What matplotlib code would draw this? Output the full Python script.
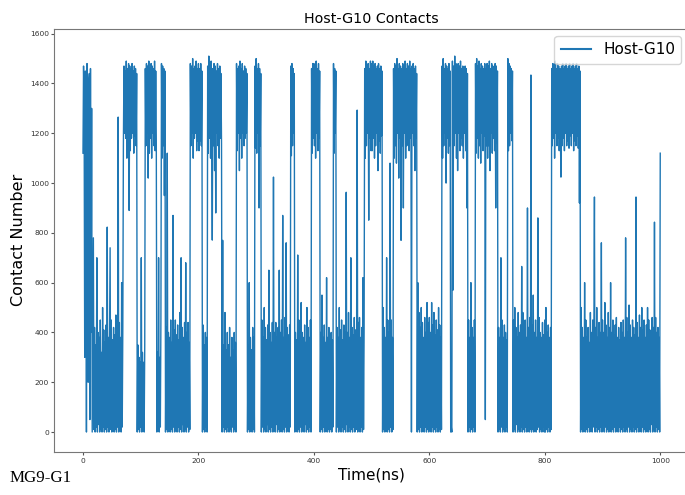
import numpy as np
import matplotlib
matplotlib.use('Agg')
import matplotlib.pyplot as plt

# contact numbers, one value per ns, in 100 ns blocks
time_step = 1
contacts_000 = [1120, 1470, 1300, 300, 1450, 1200, 0, 1480, 1150, 200, 1400, 1440, 50, 1460, 400, 1300, 0, 380, 780, 10,
                420, 0, 350, 20, 700, 0, 400, 30, 380, 0, 450, 10, 320, 0, 500, 20, 410, 0, 360, 10,
                430, 0, 823, 20, 380, 0, 400, 740, 10, 450, 0, 370, 30, 420, 0, 390, 10, 470, 0, 350,
                20, 1265, 0, 440, 10, 380, 0, 600, 20, 420, 1150, 1470, 1200, 1450, 1180, 1490, 1100, 1460, 1210, 1480,
                890, 1470, 1130, 1460, 1180, 1480, 1200, 1450, 1120, 1470, 1190, 1460, 1150, 1440, 0, 350, 10, 300, 0, 280]
contacts_100 = [20, 700, 0, 320, 10, 280, 0, 350, 1460, 1150, 1480, 1200, 1470, 1020, 1490, 1120, 1460, 1180, 1480, 1100,
                1470, 1200, 1460, 1150, 1490, 1130, 1450, 1170, 0, 320, 10, 700, 0, 300, 20, 450, 1480, 1100, 1470, 1150,
                1460, 950, 1450, 0, 420, 10, 1120, 0, 400, 20, 380, 0, 450, 10, 360, 0, 870, 20, 410, 0,
                450, 10, 390, 0, 430, 20, 370, 0, 480, 10, 700, 0, 420, 30, 380, 0, 440, 10, 680, 0,
                400, 20, 440, 0, 360, 10, 1480, 1150, 1470, 1200, 1500, 1100, 1460, 1180, 1470, 1200, 1490, 1130, 1460, 1170]
contacts_200 = [1480, 1130, 1460, 1170, 1480, 1150, 1450, 0, 430, 10, 350, 0, 400, 20, 380, 0, 1470, 1120, 1510, 1180,
                1460, 1100, 1490, 1200, 771, 1460, 1150, 1480, 1050, 1470, 880, 1450, 1200, 1480, 1150, 1460, 1100, 1470, 1180, 1440,
                1160, 0, 770, 20, 350, 0, 480, 10, 330, 0, 400, 20, 350, 0, 420, 10, 300, 0, 380, 20,
                330, 0, 400, 10, 360, 0, 1480, 1130, 1460, 1200, 1470, 1050, 1490, 1180, 1460, 1100, 1480, 1200, 1450, 1150,
                1470, 1180, 1460, 1200, 1440, 0, 350, 10, 600, 0, 380, 20, 330, 0, 420, 10, 380, 0, 1470, 1140]
contacts_300 = [1500, 1120, 1460, 1200, 1480, 900, 1460, 1150, 1440, 0, 450, 20, 380, 0, 500, 10, 420, 0, 370, 30,
                430, 0, 650, 10, 400, 0, 360, 20, 440, 0, 1024, 10, 400, 0, 440, 30, 380, 0, 420, 10,
                650, 0, 400, 20, 450, 0, 870, 10, 380, 0, 460, 20, 760, 0, 420, 10, 390, 0, 430, 20,
                1470, 1110, 1480, 1150, 1460, 1200, 1440, 0, 400, 20, 370, 0, 711, 10, 450, 0, 380, 20, 520, 0,
                400, 10, 380, 0, 430, 30, 360, 0, 500, 10, 420, 0, 380, 20, 450, 0, 1460, 1120, 1480, 1180]
contacts_400 = [1480, 1150, 1470, 1100, 1490, 1200, 1460, 1130, 1480, 1180, 1450, 0, 400, 10, 550, 0, 380, 20, 430, 0,
                360, 20, 620, 0, 380, 10, 420, 0, 350, 10, 400, 0, 370, 20, 1480, 1120, 1460, 1200, 1450, 0,
                420, 20, 380, 0, 500, 10, 410, 0, 450, 20, 370, 0, 430, 10, 400, 0, 963, 30, 400, 0,
                480, 20, 380, 0, 700, 10, 420, 0, 390, 20, 460, 0, 410, 10, 380, 1293, 0, 440, 10, 460,
                0, 380, 20, 420, 0, 620, 10, 400, 1460, 1100, 1490, 1150, 1470, 1200, 1480, 851, 1460, 1180, 1490, 1130]
contacts_500 = [1480, 1130, 1490, 1180, 1470, 1100, 1480, 1150, 1460, 1200, 1470, 1050, 1480, 1170, 1460, 1120, 1470, 1190, 1450, 0,
                500, 10, 420, 0, 380, 20, 700, 0, 450, 10, 400, 0, 1080, 20, 450, 0, 380, 10, 1460, 1100,
                1480, 1150, 1470, 1080, 1500, 1200, 1460, 1020, 1480, 1180, 1470, 770, 1460, 1150, 1480, 900, 1470, 1200, 1490, 1100,
                1460, 1150, 1480, 1200, 1470, 1130, 1490, 1180, 1460, 0, 1470, 1200, 1480, 1150, 1460, 1050, 1470, 1180, 1440, 0,
                600, 10, 480, 0, 420, 20, 500, 0, 440, 10, 380, 0, 460, 20, 400, 0, 520, 10, 440, 0]
contacts_600 = [460, 10, 400, 0, 520, 20, 430, 0, 480, 10, 390, 0, 450, 20, 410, 0, 500, 10, 430, 0,
                380, 10, 1470, 1100, 1500, 1150, 1460, 1200, 1480, 1000, 1470, 1180, 1460, 1120, 1480, 1150, 1450, 0, 20, 0,
                1490, 570, 1470, 1150, 1510, 1200, 1480, 1100, 1460, 1050, 1480, 1200, 1470, 1130, 1490, 1180, 1460, 1150, 1470, 1100,
                1450, 1200, 1470, 1130, 1460, 900, 1440, 0, 450, 20, 380, 0, 600, 10, 420, 0, 380, 20, 450, 0,
                1480, 1120, 1500, 1180, 1470, 1100, 1490, 1150, 1460, 1080, 1480, 1200, 1470, 1130, 1460, 1190, 1480, 50, 1460, 1150]
contacts_700 = [1480, 1100, 1470, 1150, 1490, 1050, 1460, 1200, 1480, 1120, 1470, 1180, 1460, 1130, 1480, 900, 1470, 1160, 1450, 0,
                420, 10, 380, 0, 700, 20, 450, 0, 380, 10, 430, 0, 400, 20, 370, 0, 1500, 1130, 1480, 1150,
                1470, 1200, 1460, 1170, 1450, 0, 450, 10, 500, 0, 420, 30, 380, 0, 480, 10, 400, 0, 430, 20,
                665, 0, 480, 10, 400, 0, 450, 20, 380, 0, 900, 20, 420, 0, 460, 10, 1434, 0, 430, 10,
                550, 0, 400, 20, 450, 0, 380, 10, 860, 20, 460, 0, 400, 10, 380, 0, 440, 20, 390, 0]
contacts_800 = [450, 0, 500, 10, 400, 0, 430, 20, 380, 0, 420, 10, 1460, 1150, 1480, 1180, 1470, 1100, 1490, 1200,
                1460, 1150, 1480, 1180, 1470, 1130, 1460, 1200, 1024, 1470, 1150, 1480, 1180, 1460, 1130, 1470, 1200, 1480, 1150, 1460,
                1170, 1470, 1140, 1480, 1190, 1460, 1150, 1470, 1200, 1480, 1130, 1460, 1170, 1470, 1150, 1480, 1190, 1460, 1140, 1470,
                920, 1450, 0, 500, 10, 420, 0, 380, 20, 600, 0, 450, 10, 380, 0, 420, 20, 360, 0, 480,
                10, 400, 0, 450, 20, 380, 944, 0, 420, 20, 500, 0, 380, 10, 440, 0, 400, 20, 760, 0]
contacts_900 = [450, 10, 400, 0, 520, 20, 430, 0, 380, 10, 480, 0, 420, 20, 600, 0, 400, 10, 450, 0,
                390, 20, 430, 0, 460, 10, 380, 0, 420, 20, 370, 0, 440, 10, 400, 0, 450, 20, 380, 0,
                780, 10, 460, 0, 400, 20, 510, 0, 430, 10, 380, 0, 450, 20, 420, 0, 390, 10, 944, 0,
                440, 20, 380, 0, 470, 10, 420, 0, 500, 20, 410, 0, 450, 10, 380, 0, 430, 20, 500, 0,
                450, 10, 410, 0, 390, 30, 460, 0, 420, 10, 843, 0, 460, 20, 400, 0, 420, 10, 380, 0,
                1120]

contacts = np.concatenate([contacts_000, contacts_100, contacts_200, contacts_300,
                           contacts_400, contacts_500, contacts_600, contacts_700,
                           contacts_800, contacts_900])
time = np.arange(len(contacts)) * time_step

fig = plt.figure(figsize=(6.85, 4.95), dpi=100)
ax = fig.add_axes([0.079, 0.087, 0.927, 0.855])

ax.plot(time, contacts, color='#1f77b4', linewidth=1.0, label='Host-G10')

# axes, labels, title, legend
ax.set_title('Host-G10 Contacts', fontsize=10.3, pad=4)
ax.set_xlabel('Time(ns)', fontsize=11)
ax.set_ylabel('Contact Number', fontsize=11.5)
ax.xaxis.set_label_coords(0.5, -0.036)
ax.yaxis.set_label_coords(-0.045, 0.5)
ax.set_xticks([0, 200, 400, 600, 800, 1000])
ax.set_yticks([0, 200, 400, 600, 800, 1000, 1200, 1400, 1600])
ax.tick_params(labelsize=5.4, length=2.2, colors='#555555', labelcolor='#333333')
ax.tick_params(axis='x', pad=2)
ax.tick_params(axis='y', pad=1.5)
for spine in ax.spines.values():
    spine.set_color('#777777')
ax.set_xlim(-50, 1050)
ax.set_ylim(-80, 1620)
leg = ax.legend(loc='upper right', fontsize=11)
for line in leg.get_lines():
    line.set_linewidth(1.5)

fig.text(0.0146, 0.026, 'MG9-G1', fontsize=12.2, family='Liberation Serif')

plt.savefig('out.png', dpi=100)
